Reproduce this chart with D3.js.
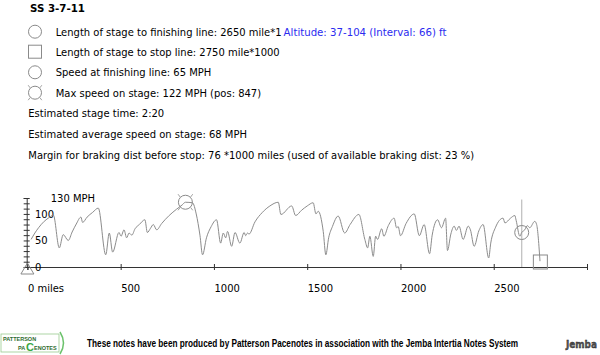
<!DOCTYPE html>
<html><head><meta charset="utf-8">
<script src="https://cdn.jsdelivr.net/npm/d3@7"></script>
<style>
html,body{margin:0;padding:0;background:#fff;}
svg{display:block;}
</style>
</head><body>
<svg id="c" width="600" height="355"></svg>
<script>
// ---- data ----
const title = "SS 3-7-11";
const infoLines = [
  "Length of stage to finishing line: 2650 mile*1",
  "Length of stage to stop line: 2750 mile*1000",
  "Speed at finishing line: 65 MPH",
  "Max speed on stage: 122 MPH (pos: 847)",
  "Estimated stage time: 2:20",
  "Estimated average speed on stage: 68 MPH",
  "Margin for braking dist before stop: 76 *1000 miles (used of available braking dist: 23 %)"
];
const altitudeText = "Altitude: 37-104 (Interval: 66) ft";
const footerText = "These notes have been produced by Patterson Pacenotes in association with the Jemba Intertia Notes System";

const finishPos = 2650, finishSpeed = 65;
const stopPos = 2750;
const maxPos = 847, maxSpeed = 122;

const xTicks = [0, 500, 1000, 1500, 2000, 2500, 3000];
const xTickLabels = ["0 miles", "500", "1000", "1500", "2000", "2500", ""];
const yMinorTicks = [0,10,20,30,40,50,60,70,80,90,100,110,120,130];
const yLabels = [0, 50, 100];
const yTopLabel = "130 MPH";

const miles = [20,40,60,90,120,139,171,192,219,240,262,287,296,320,350,380,420,439,457,491,502,518,532,545,560,577,600,630,643,660,675,693,720,760,800,830,847,885,905,925,939,960,985,1014,1036,1050,1063,1073,1095,1113,1139,1162,1170,1180,1188,1220,1260,1300,1345,1359,1417,1438,1470,1500,1532,1547,1559,1586,1600,1615,1635,1666,1701,1730,1777,1809,1824,1836,1854,1867,1877,1899,1911,1935,1966,1979,1988,2000,2030,2074,2101,2127,2156,2170,2199,2220,2242,2252,2270,2288,2300,2314,2336,2363,2375,2395,2420,2443,2473,2484,2510,2550,2560,2590,2613,2620,2640,2650,2666,2680,2693,2720,2730,2748];
const speeds = [52,64,74,86,94,98,36,61,50,66,81,94,84,94,103,111,23,64,28,65,58,70,55,64,60,72,80,89,65,73,80,70,82,97,109,117,122,121,100,60,23,55,76,89,45,64,55,67,39,65,45,65,59,64,62,85,103,115,122,99,115,97,107,115,121,100,105,67,23,55,76,96,64,80,99,52,36,58,20,58,52,72,58,78,92,74,76,59,82,100,59,80,25,60,89,74,92,31,62,77,69,77,52,77,70,39,68,80,17,45,75,92,83,92,97,88,58,65,70,78,74,86,80,11];

// ---- drawing ----
const svg = d3.select("#c");
svg.append("rect").attr("width",600).attr("height",355).attr("fill","#fff");
const FONT = "'DejaVu Sans', Verdana, sans-serif";

// horizontal condensation factor to mimic Tahoma widths
const tmp = svg.append("text").attr("font-family",FONT).attr("font-size",11).text(infoLines[1]);
const natural = tmp.node().getComputedTextLength();
tmp.remove();
const k = 224 / natural;

function addText(parent, str, x, y, opts) {
  opts = opts || {};
  const g = parent.append("g");
  const t = g.append("text")
    .attr("x", 0).attr("y", 0)
    .attr("font-family", opts.family || FONT)
    .attr("font-size", opts.size || 11)
    .attr("font-weight", opts.weight || "normal")
    .attr("fill", opts.fill || "#000")
    .text(str);
  const w = t.node().getComputedTextLength();
  const s = opts.width ? opts.width / w : k;
  g.attr("transform", `translate(${x},${y}) scale(${s},1)`);
  return t;
}

// title
addText(svg, title, 30, 11.5, {weight: "bold", width: 55});

// info rows
const rowY = [31.7, 51.7, 72.3, 92.7, 113.3, 134.3, 155];
const iconStroke = "#8a8a8a";
addText(svg, infoLines[0], 55.7, rowY[0] + 4, {width: 226});
addText(svg, altitudeText, 283.6, rowY[0] + 4, {fill: "#2b2bf0", width: 163});
addText(svg, infoLines[1], 55.7, rowY[1] + 4);
addText(svg, infoLines[2], 55.7, rowY[2] + 4);
addText(svg, infoLines[3], 55.7, rowY[3] + 4);
addText(svg, infoLines[4], 28.3, rowY[4] + 4);
addText(svg, infoLines[5], 28.3, rowY[5] + 4);
addText(svg, infoLines[6], 28.3, rowY[6] + 4);

// icons
svg.append("circle").attr("cx",35).attr("cy",rowY[0]).attr("r",6.5).attr("fill","none").attr("stroke",iconStroke);
svg.append("rect").attr("x",28.5).attr("y",rowY[1]-6.5).attr("width",13).attr("height",13).attr("fill","none").attr("stroke",iconStroke);
svg.append("circle").attr("cx",35).attr("cy",rowY[2]).attr("r",6.5).attr("fill","none").attr("stroke",iconStroke);
function maxMarker(g, cx, cy, r) {
  g.append("circle").attr("cx",cx).attr("cy",cy).attr("r",r).attr("fill","none").attr("stroke",iconStroke);
  [[-1,-1],[1,-1],[-1,1],[1,1]].forEach(([sx,sy]) => {
    g.append("line")
      .attr("x1", cx + sx*r*0.75).attr("y1", cy + sy*r*0.75)
      .attr("x2", cx + sx*r*1.05).attr("y2", cy + sy*r*1.15)
      .attr("stroke", iconStroke).attr("stroke-width",0.8);
  });
}
maxMarker(svg, 35, rowY[3], 6.5);

// ---- chart ----
const x = d3.scaleLinear().domain([0, 3000]).range([27.4, 587]);
const y = d3.scaleLinear().domain([0, 130]).range([267, 198]);
const axisColor = "#333";

// finishing line vertical
svg.append("line").attr("x1",x(finishPos)).attr("x2",x(finishPos))
  .attr("y1",y(127)).attr("y2",y(0)).attr("stroke","#bdbdbd").attr("stroke-width",1.2);

// x axis
const gx = svg.append("g").attr("transform", `translate(0,${y(0)})`)
  .call(d3.axisBottom(x).tickValues(xTicks).tickSizeOuter(0).tickSize(3)
        .tickFormat((d,i) => xTickLabels[i]));
gx.select(".domain").attr("stroke", axisColor);
gx.selectAll(".tick line").attr("y1",-3).attr("y2",3).attr("stroke",axisColor);
gx.selectAll(".tick text").attr("text-anchor","start").attr("x",0).attr("y",25)
  .attr("dy",0).attr("font-family",FONT).attr("font-size",11).attr("fill","#000")
  .attr("transform", `scale(${k},1)`);

// y axis
const gy = svg.append("g").attr("transform", `translate(${x(0) - 0.7},0)`)
  .call(d3.axisLeft(y).tickValues(yMinorTicks).tickSizeOuter(0).tickSize(3).tickFormat(""));
gy.select(".domain").attr("stroke", axisColor);
gy.selectAll(".tick line").attr("x1",-3).attr("x2",3).attr("stroke",axisColor);

yLabels.forEach(v => addText(svg, String(v), 35, y(v) + 4));
addText(svg, yTopLabel, 50.7, y(130) + 4);

// origin triangle
const ox = x(0);
svg.append("path").attr("d", `M${ox},${y(0)-4}L${ox+6.5},${y(0)+7}L${ox-6.5},${y(0)+7}Z`)
  .attr("fill","none").attr("stroke",iconStroke);

// speed line
const pts = miles.map((m,i) => ({m, s: speeds[i]}));
svg.append("path").datum(pts)
  .attr("d", d3.line().x(d => x(d.m)).y(d => y(d.s)).curve(d3.curveMonotoneX))
  .attr("fill","none").attr("stroke","#8c8c8c").attr("stroke-width",1);

// markers
maxMarker(svg, x(maxPos), y(maxSpeed), 7);
svg.append("circle").attr("cx",x(finishPos)).attr("cy",y(finishSpeed)).attr("r",7)
  .attr("fill","none").attr("stroke",iconStroke);
svg.append("rect").attr("x",x(stopPos)-7).attr("y",y(0)-12).attr("width",14).attr("height",14)
  .attr("fill","none").attr("stroke",iconStroke);

// ---- footer ----
const LS = "'Liberation Sans', Arial, sans-serif";
const logo = svg.append("g");
logo.append("rect").attr("x",1).attr("y",334).attr("width",58).attr("height",18).attr("fill","#fff").attr("stroke","#9acb8f").attr("stroke-width",0.8);
logo.append("text").attr("x",3).attr("y",341).attr("font-family",LS)
  .attr("font-size",5.5).attr("font-weight","bold").attr("fill","#2e6b2e").text("PATTERSON");
logo.append("text").attr("x",18).attr("y",350).attr("font-family",LS)
  .attr("font-size",5.5).attr("font-weight","bold").attr("fill","#2e6b2e").text("PA");
logo.append("text").attr("x",26).attr("y",351).attr("font-family",LS)
  .attr("font-size",11).attr("font-weight","bold").attr("fill","#3aa845").text("C");
logo.append("text").attr("x",34).attr("y",350).attr("font-family",LS)
  .attr("font-size",5.5).attr("font-weight","bold").attr("fill","#2e6b2e").text("ENOTES");
logo.append("path").attr("d","M60,332 Q67,343 60,354").attr("fill","none").attr("stroke","#6cc26c").attr("stroke-width",1.5);

addText(svg, footerText, 87, 347, {family: LS, weight: "bold", size: 10.5, width: 432});

const jt = addText(svg, "Jemba", 566, 348, {family: FONT, weight: "bold", size: 11, width: 31, fill: "#555"});
jt.attr("stroke","#222").attr("stroke-width",0.4);
</script>
</body></html>
